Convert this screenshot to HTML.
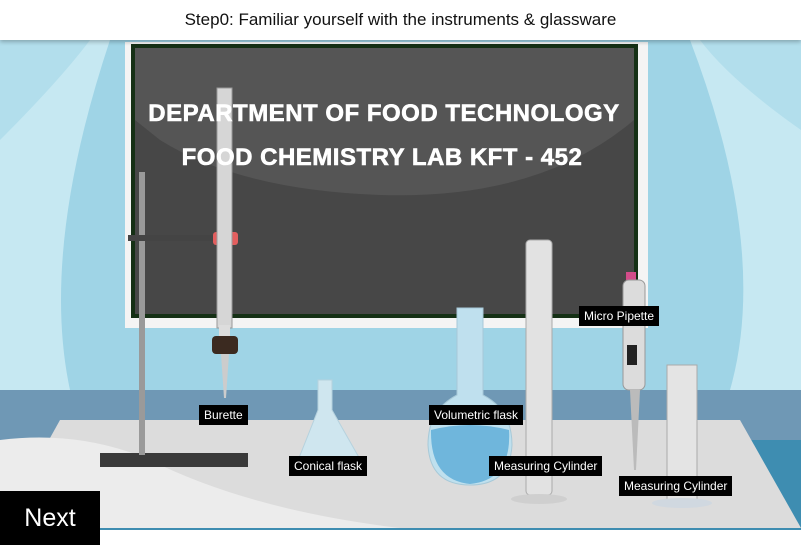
<!DOCTYPE html>
<html><head><meta charset="utf-8">
<style>
*{margin:0;padding:0;box-sizing:border-box}
body{width:801px;height:550px;overflow:hidden;background:#fff;font-family:"Liberation Sans",sans-serif;position:relative}
.abs{position:absolute}
.lbl{position:absolute;background:#000;color:#fff;font-size:12px;padding:3px 5px;line-height:14px;white-space:nowrap}
</style></head><body>
<div class="abs" style="left:0;top:0;width:801px;height:40px;background:#fff;text-align:center;font-size:17px;line-height:40px;color:#111;box-shadow:0 2px 4px rgba(0,0,0,.25);z-index:5">Step0: Familiar yourself with the instruments &amp; glassware</div>

<svg class="abs" style="left:0;top:40px" width="801" height="490" viewBox="0 40 801 490">
 <rect x="0" y="40" width="801" height="360" fill="#9fd4e6"/>
 <path d="M0 40 L0 390 L70 390 Q40 250 110 40Z" fill="#c6e8f2"/>
 <path d="M0 40 L0 140 Q60 80 90 40Z" fill="#b2deec"/>
 <path d="M801 40 L801 390 L730 390 Q770 250 690 40Z" fill="#c6e8f2"/>
 <path d="M801 40 L801 130 Q730 80 700 40Z" fill="#b2deec"/>
 <rect x="0" y="390" width="801" height="50" fill="#6f98b5"/>
 <rect x="0" y="440" width="801" height="90" fill="#3e8db1"/>
 <polygon points="60,420 740,420 801,528 0,528" fill="#dcdcdc"/>
 <path d="M0 440 Q80 430 150 460 Q250 510 400 528 L0 528Z" fill="#ececec"/>
 <rect x="125" y="42" width="523" height="286" fill="#f4f4f4"/>
 <rect x="131" y="44" width="507" height="274" fill="#153015"/>
 <rect x="135" y="48" width="499" height="266" fill="#474747"/>
 <path d="M135 48 L634 48 L634 120 Q540 200 380 195 Q240 190 160 140 L135 120Z" fill="#555"/>
 <rect x="100" y="453" width="148" height="14" fill="#3a3a3a"/>
 <rect x="139" y="172" width="6" height="283" fill="#9a9a9a"/>
 <rect x="128" y="235" width="92" height="6" fill="#444"/>
 <rect x="213" y="232" width="25" height="13" rx="3" fill="#e35f5f"/>
 <rect x="217" y="88" width="15" height="240" fill="#d6d6d6" stroke="#999"/>
 <rect x="219" y="325" width="11" height="20" fill="#ddd"/>
 <rect x="212" y="336" width="26" height="18" rx="4" fill="#3b2a20"/>
 <polygon points="221,354 229,354 226,398 224,398" fill="#ccc"/>
 <path d="M318 380 L332 380 L332 410 L365 468 Q330 475 295 468 L318 410Z" fill="#cfe6ef" stroke="#b6d2de"/>
 <path d="M457 308 L483 308 L483 395 Q512 410 512 445 Q510 485 470 485 Q430 485 428 445 Q428 410 457 395Z" fill="#bfe0ee" stroke="#a7c9d8"/>
 <path d="M431 430 Q470 420 509 430 Q512 480 470 484 Q430 480 431 430Z" fill="#6fb6dc"/>
 <rect x="526" y="240" width="26" height="255" rx="4" fill="#e2e2e2" stroke="#aaa"/>
 <ellipse cx="539" cy="499" rx="28" ry="5" fill="#cfcfcf"/>
 <rect x="626" y="272" width="10" height="10" fill="#d34c8a"/>
 <rect x="623" y="280" width="22" height="110" rx="6" fill="#dcdcdc" stroke="#999"/>
 <rect x="627" y="345" width="10" height="20" fill="#222"/>
 <polygon points="630,390 640,390 636,470 634,470" fill="#bbb"/>
 <rect x="667" y="365" width="30" height="138" fill="#e4e4e4" stroke="#aaa"/>
 <ellipse cx="682" cy="503" rx="30" ry="5" fill="#d0d8e0"/>
 <text x="384" y="121" fill="#fff" font-size="24" font-weight="bold" letter-spacing="0.5" text-anchor="middle" font-family="Liberation Sans" stroke="#fff" stroke-width="0.6">DEPARTMENT OF FOOD TECHNOLOGY</text>
 <text x="382" y="165" fill="#fff" font-size="24" font-weight="bold" letter-spacing="0.5" text-anchor="middle" font-family="Liberation Sans" stroke="#fff" stroke-width="0.6">FOOD CHEMISTRY LAB KFT - 452</text>
</svg>

<div class="lbl" style="left:199px;top:405px">Burette</div>
<div class="lbl" style="left:289px;top:456px">Conical flask</div>
<div class="lbl" style="left:429px;top:405px">Volumetric flask</div>
<div class="lbl" style="left:489px;top:456px">Measuring Cylinder</div>
<div class="lbl" style="left:579px;top:306px">Micro Pipette</div>
<div class="lbl" style="left:619px;top:476px">Measuring Cylinder</div>
<div class="abs" style="left:0;top:491px;width:100px;height:54px;background:#000;color:#fff;font-size:25px;line-height:54px;text-align:center">Next</div>
</body></html>
